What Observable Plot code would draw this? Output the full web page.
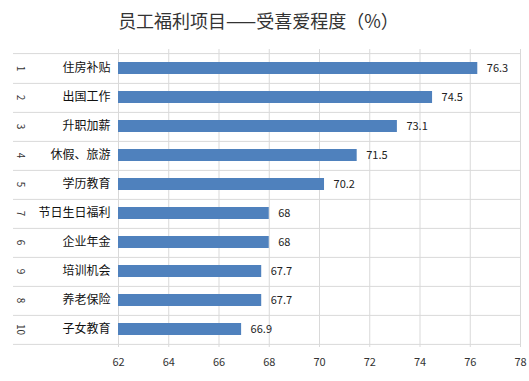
<!DOCTYPE html>
<html>
<head>
<meta charset="utf-8">
<script src="https://cdn.jsdelivr.net/npm/d3@7"></script>
<script src="https://cdn.jsdelivr.net/npm/@observablehq/plot@0.6"></script>
<style>
  html, body { margin: 0; padding: 0; background: #fff; }
  #wrap { position: relative; width: 529px; height: 381px; font-family: "Noto Sans CJK SC", sans-serif; }
  #title { position: absolute; left: 0; top: 0; width: 517px; height: 40px; line-height: 40px; text-align: center; font-size: 18px; color: #333; }
  #chart { position: absolute; left: 0; top: 40px; }
</style>
</head>
<body>
<div id="wrap">
  <div id="title">员工福利项目——受喜爱程度（%）</div>
  <div id="chart"></div>
</div>
<script>
const categories = ["住房补贴", "出国工作", "升职加薪", "休假、旅游", "学历教育", "节日生日福利", "企业年金", "培训机会", "养老保险", "子女教育"];
const ranks = ["1", "2", "3", "4", "5", "7", "6", "9", "8", "10"];
const values = [76.3, 74.5, 73.1, 71.5, 70.2, 68, 68, 67.7, 67.7, 66.9];
const xTicks = [62, 64, 66, 68, 70, 72, 74, 76, 78];

const data = categories.map((c, i) => ({ category: c, rank: ranks[i], value: values[i] }));

const W = 529, H = 341, mt = 9, mb = 34, ml = 118, mr = 9;
const step = (H - mt - mb) / categories.length;
const grid = "#D9D9D9";
const font = "Noto Sans CJK SC, sans-serif";

const chart = Plot.plot({
  width: W,
  height: H,
  marginTop: mt,
  marginBottom: mb,
  marginLeft: ml,
  marginRight: mr,
  style: { fontFamily: font, background: "#fff", overflow: "visible" },
  x: { domain: [62, 78], ticks: xTicks },
  y: { domain: categories, paddingInner: 0.6, paddingOuter: 0.3 },
  marks: [
    Plot.ruleX(xTicks, { stroke: grid, strokeWidth: 1 }),
    Plot.ruleY(data, { y: "category", dy: step / 2, stroke: grid, insetLeft: -105 }),
    Plot.ruleY(data.slice(0, 1), { y: "category", dy: -step / 2, stroke: grid, insetLeft: -105 }),
    Plot.barX(data, { x1: 62, x2: "value", y: "category", fill: "#4F81BD" }),
    Plot.text(data, { x: "value", y: "category", text: d => String(d.value), textAnchor: "start", dx: 9, fontSize: 11, fill: "#222" }),
    Plot.text(data, { y: "category", text: "category", frameAnchor: "left", textAnchor: "end", dx: -8, fontSize: 12, fill: "#111" }),
    Plot.text(data, { y: "category", text: "rank", frameAnchor: "left", textAnchor: "middle", dx: -98, rotate: 90, fontSize: 10, fill: "#333" }),
    Plot.axisX({ ticks: xTicks, tickSize: 0, tickPadding: 11, fontSize: 11, color: "#333", label: null }),
    Plot.axisY({ ticks: [], label: null, tickSize: 0 })
  ]
});
document.getElementById("chart").appendChild(chart);
</script>
</body>
</html>
